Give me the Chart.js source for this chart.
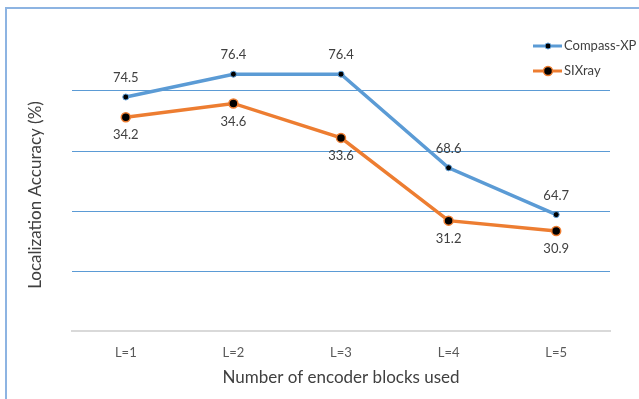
<!DOCTYPE html>
<html>
<head>
<meta charset="utf-8">
<script src="https://cdn.jsdelivr.net/npm/chart.js@4"></script>
<style>
  html, body { margin: 0; padding: 0; background: #fff; }
  #wrap { position: relative; width: 639px; height: 399px; }
  #frame { position: absolute; left: 5px; top: 7px; right: -4px; bottom: -4px; border-left: 2px solid #8DB4E2; border-top: 2px solid #8DB4E2; }
  canvas { position: absolute; left: 0; top: 0; }
</style>
</head>
<body>
<div id="wrap">
  <div id="frame"></div>
  <canvas id="accuracy" width="639" height="399"></canvas>
</div>
<script>
// データ
var categories = ["L=1", "L=2", "L=3", "L=4", "L=5"];
var compassXP = [74.5, 76.4, 76.4, 68.6, 64.7];
var sixray = [34.2, 34.6, 33.6, 31.2, 30.9];
var seriesNames = ["Compass-XP", "SIXray"];
var yTitle = "Localization Accuracy (%)";

var FONT = "Lato, 'Liberation Sans', sans-serif";
var BLUE = "#5B9BD5";
var ORANGE = "#ED7D31";

// 値ラベル (Compass-XPは上、SIXrayは下)
var valueLabels = {
    id: 'valueLabels',
    afterDatasetsDraw: function (chart) {
        var ctx = chart.ctx;
        ctx.save();
        ctx.font = "13px " + FONT;
        ctx.fillStyle = "#404040";
        ctx.textAlign = "center";
        ctx.textBaseline = "middle";
        chart.data.datasets.forEach(function (ds, i) {
            var meta = chart.getDatasetMeta(i);
            meta.data.forEach(function (pt, j) {
                var dy = i === 0 ? -19 : 18;
                ctx.fillText(ds.data[j].toFixed(1), pt.x, pt.y + dy);
            });
        });
        ctx.restore();
    }
};

// 凡例 (線+点) と縦軸タイトル
var lineLegend = {
    id: 'lineLegend',
    afterDraw: function (chart) {
        var ctx = chart.ctx;
        ctx.save();
        chart.data.datasets.forEach(function (ds, i) {
            var y = 46 + i * 25;
            ctx.strokeStyle = ds.borderColor;
            ctx.lineWidth = 3;
            ctx.beginPath();
            ctx.moveTo(533, y);
            ctx.lineTo(562, y);
            ctx.stroke();
            ctx.beginPath();
            ctx.arc(548, y, ds.pointRadius, 0, Math.PI * 2);
            ctx.fillStyle = "#000";
            ctx.fill();
            ctx.lineWidth = ds.pointBorderWidth;
            ctx.stroke();
            ctx.font = "13px " + FONT;
            ctx.fillStyle = "#404040";
            ctx.textAlign = "left";
            ctx.textBaseline = "middle";
            ctx.fillText(ds.label, 564, y);
        });
        // 縦軸タイトル
        ctx.translate(36, 195);
        ctx.rotate(-Math.PI / 2);
        ctx.font = "17px " + FONT;
        ctx.fillStyle = "#404040";
        ctx.textAlign = "center";
        ctx.textBaseline = "middle";
        ctx.fillText(yTitle, 0, 0);
        ctx.restore();
    }
};

var canvas = document.getElementById("accuracy");
var accuracyChart = new Chart(canvas, {
    type: 'line',
    data: {
        labels: categories,
        datasets: [{
            label: seriesNames[0],
            data: compassXP,
            yAxisID: 'y',
            borderColor: BLUE,
            borderWidth: 3.5,
            pointRadius: 3,
            pointBorderWidth: 1,
            pointBackgroundColor: "#000",
            pointBorderColor: BLUE,
            tension: 0
        }, {
            label: seriesNames[1],
            data: sixray,
            yAxisID: 'y1',
            borderColor: ORANGE,
            borderWidth: 3.5,
            pointRadius: 4.5,
            pointBorderWidth: 1.5,
            pointBackgroundColor: "#000",
            pointBorderColor: ORANGE,
            tension: 0
        }]
    },
    options: {
        responsive: false,
        animation: false,
        layout: { padding: { top: 31, right: 29, left: 0, bottom: 0 } },
        plugins: {
            legend: false,
            tooltip: { enabled: false }
        },
        scales: {
            x: {
                offset: true,
                grid: { display: false, drawTicks: false },
                border: { color: "#D9D9D9", width: 2 },
                ticks: { color: "#595959", font: { family: FONT, size: 13 }, padding: 14 },
                title: {
                    display: true,
                    text: "Number of encoder blocks used",
                    color: "#404040",
                    font: { family: FONT, size: 17 },
                    padding: { top: 0, bottom: 11 }
                },
                afterFit: function (scale) { scale.height = 68; }
            },
            y: {
                min: 55,
                max: 80,
                ticks: { display: false, stepSize: 5 },
                border: { display: false },
                grid: {
                    drawTicks: false,
                    lineWidth: 1,
                    color: function (c) {
                        if (c.tick.value === 80 || c.tick.value === 55) return 'rgba(0,0,0,0)';
                        return BLUE;
                    }
                },
                title: { display: false },
                afterFit: function (scale) { scale.width = 72; }
            },
            y1: {
                display: false,
                position: 'right',
                min: 28,
                max: 36.7
            }
        }
    },
    plugins: [valueLabels, lineLegend]
});
</script>
</body>
</html>
